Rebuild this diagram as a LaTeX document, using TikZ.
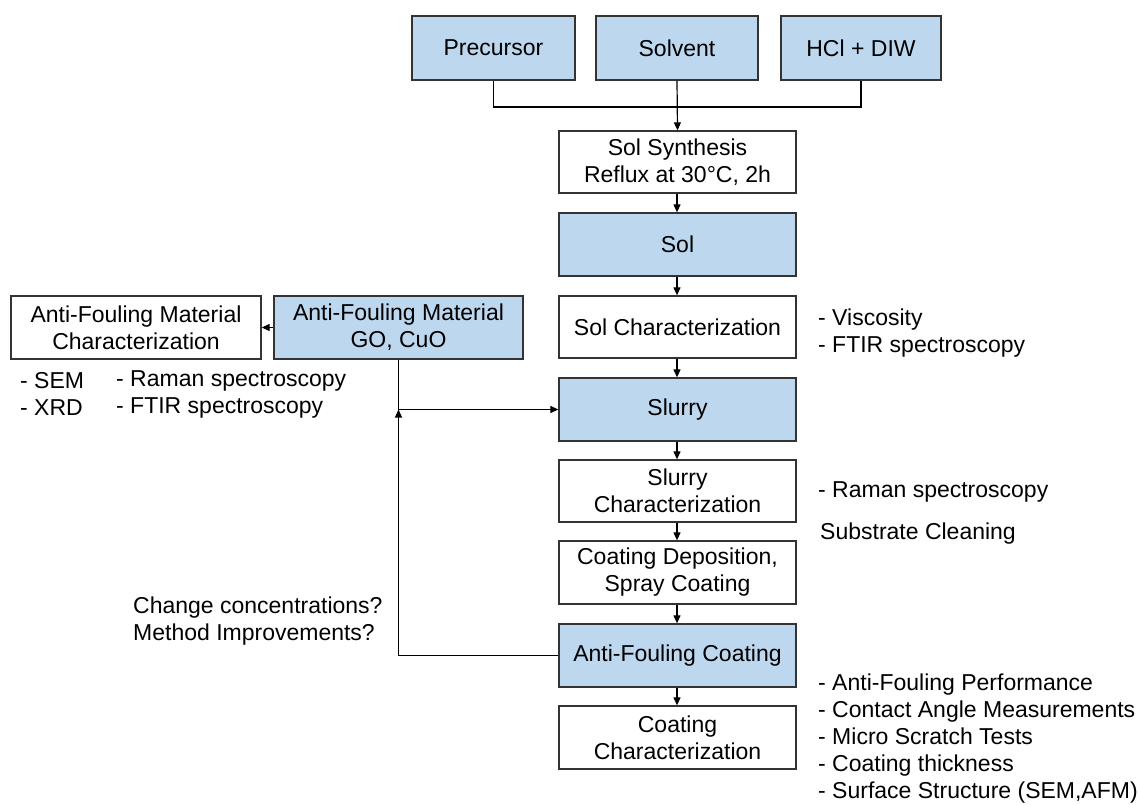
\documentclass[tikz,border=0pt]{standalone}
\usepackage{fontspec}
\setmainfont{Liberation Sans}
\usetikzlibrary{arrows.meta}
\definecolor{boxblue}{HTML}{BDD7EE}
\definecolor{edge}{HTML}{333333}
\tikzset{
  box/.style={draw=edge, line width=1.3pt, fill=white, minimum height=62pt, inner sep=0pt, align=center, font=\fontsize{23}{27}\selectfont},
  bluebox/.style={box, fill=boxblue},
  conn/.style={draw=black, line width=1.2pt},
  arr/.style={conn, -{Triangle[length=8pt,width=7pt]}},
  note/.style={anchor=west, align=left, inner sep=0pt, font=\fontsize{23}{27}\selectfont}
}
\begin{document}
\begin{tikzpicture}[x=1pt, y=-1pt]
\useasboundingbox (0,0) rectangle (1138,805);
% top inputs
\node[bluebox, minimum width=163pt, minimum height=64pt] (pre) at (493.5,48) {Precursor};
\node[bluebox, minimum width=162pt, minimum height=64pt] (solv) at (677,48) {Solvent};
\node[bluebox, minimum width=160pt, minimum height=64pt] (hcl) at (861,48) {HCl + DIW};
% main column
\node[box, minimum width=237pt] (syn) at (677.5,162) {Sol Synthesis\\Reflux at 30°C, 2h};
\node[bluebox, minimum width=237pt, minimum height=63pt] (sol) at (677.5,244.5) {Sol};
\node[box, minimum width=237pt] (solc) at (677.5,327) {Sol Characterization};
\node[bluebox, minimum width=237pt, minimum height=63pt] (slurry) at (677.5,409.5) {Slurry};
\node[box, minimum width=237pt] (slc) at (677.5,491) {Slurry\\Characterization};
\node[box, minimum width=237pt, minimum height=63pt] (dep) at (677.5,572.5) {Coating Deposition,\\Spray Coating};
\node[bluebox, minimum width=237pt, minimum height=63pt] (afc) at (677.5,655.5) {Anti-Fouling Coating};
\node[box, minimum width=237pt, minimum height=63pt] (cc) at (677.5,737.5) {Coating\\Characterization};
% left side
\node[bluebox, minimum width=249pt, minimum height=63pt] (afm) at (398.5,327.5) {Anti-Fouling Material\\GO, CuO};
\node[box, minimum width=250pt, minimum height=63pt] (afmc) at (136,327.5) {Anti-Fouling Material\\Characterization};
% connectors
\coordinate (j) at (677,107);
\draw[conn] (pre.south) |- (j) -| (hcl.south);
\draw[arr] (solv.south) -- (syn.north);
\draw[arr] (syn.south -| solv.south) -- (sol.north -| solv.south);
\draw[arr] (sol.south -| solv.south) -- (solc.north -| solv.south);
\draw[arr] (solc.south -| solv.south) -- (slurry.north -| solv.south);
\draw[arr] (slurry.south -| solv.south) -- (slc.north -| solv.south);
\draw[arr] (slc.south -| solv.south) -- (dep.north -| solv.south);
\draw[arr] (dep.south -| solv.south) -- (afc.north -| solv.south);
\draw[arr] (afc.south -| solv.south) -- (cc.north -| solv.south);
\draw[arr] (afm.west) -- (afmc.east);
\draw[arr] (afm.south) |- (slurry.west);
\coordinate (fb) at (398.5,409.5);
\draw[arr] (afc.west) -| (fb);
% notes
\node[note] (n1) at (818,333.5) {- Viscosity\\- FTIR spectroscopy};
\node[note] (n2) at (20,394) {- SEM\\- XRD};
\node[note] (n3) at (116,394) {- Raman spectroscopy\\- FTIR spectroscopy};
\node[note] (n4) at (818,492) {- Raman spectroscopy};
\node[note] (n5) at (820,534) {Substrate Cleaning};
\node[note] (n6) at (133,621.5) {Change concentrations?\\Method Improvements?};
\node[note] (n7) at (818,739) {- Anti-Fouling Performance\\- Contact Angle Measurements\\- Micro Scratch Tests\\- Coating thickness\\- Surface Structure (SEM,AFM)};
\end{tikzpicture}
\end{document}
